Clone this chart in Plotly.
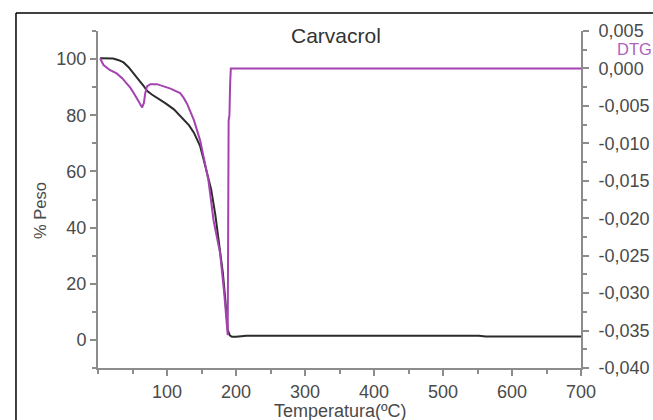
import plotly.graph_objects as go

# TG curve (% Peso vs Temperatura)
tg_temp = [3, 12, 22, 30, 37, 44, 52, 59, 66, 71, 78, 86, 98, 110, 124, 132, 139, 148, 153, 158,
           164, 170, 175, 181, 184.5, 188, 191, 194, 200, 207, 215, 300, 400, 500, 552, 562, 700]
tg_peso = [100.3, 100.3, 100.2, 99.6, 98.8, 97.2, 94.6, 92.6, 90.5, 88.7, 87.4, 86.2, 84.2, 82.1, 78.6, 76.4, 73.8, 69, 64.3, 59.5,
           53.6, 44.6, 35.7, 23.8, 14.3, 3.6, 1.6, 1.1, 1.1, 1.3, 1.5, 1.5, 1.5, 1.5, 1.5, 1.2, 1.2]

# DTG curve
dtg_temp = [3, 8, 17, 27, 35, 42, 47, 52, 57, 61, 64, 66.5, 68.5, 71, 75.8, 85.5, 95, 105, 119, 124, 129,
            134, 139, 148, 155.5, 160, 167.5, 177, 183, 187, 188, 189.3, 190.5, 191.5, 192.5, 200, 300,
            400, 500, 600, 700]
dtg_val = [0.00135, 0.00045, -0.0002, -0.00066, -0.0013, -0.0020, -0.0026, -0.0033, -0.0041, -0.0049, -0.0052, -0.0046,
           -0.0033, -0.0024, -0.0021, -0.0021, -0.0024, -0.0027, -0.0033, -0.0039, -0.0047,
           -0.0057, -0.0069, -0.0096, -0.0127, -0.0149, -0.0203, -0.0247, -0.0301, -0.0350, -0.0356,
           -0.0070, -0.0062, -0.0020, 0.0, 0.0, 0.0, 0.0, 0.0, 0.0, 0.0]

x_ticks = [100, 200, 300, 400, 500, 600, 700]
y_ticks = [0, 20, 40, 60, 80, 100]
y2_ticks = [0.005, 0.0, -0.005, -0.010, -0.015, -0.020, -0.025, -0.030, -0.035, -0.040]
y2_labels = ["0,005", "0,000", "-0,005", "-0,010", "-0,015", "-0,020", "-0,025", "-0,030", "-0,035", "-0,040"]

AX = "#8c8c8c"
TXT = "#4a4a4a"
PURPLE = "#a443b0"
FONT = "Liberation Sans, Arial, sans-serif"

fig = go.Figure()
fig.add_trace(go.Scatter(x=dtg_temp, y=dtg_val, yaxis="y2", mode="lines",
                         line=dict(color=PURPLE, width=2), showlegend=False))
fig.add_trace(go.Scatter(x=tg_temp, y=tg_peso, mode="lines",
                         line=dict(color="#2b2b2b", width=2), showlegend=False))

tick_font = dict(family=FONT, size=18, color=TXT)

fig.update_layout(
    width=653, height=420,
    margin=dict(l=98, r=72, t=31, b=52, autoexpand=False),
    paper_bgcolor="white", plot_bgcolor="white",
    font=dict(family=FONT, size=18, color=TXT),
    xaxis=dict(range=[0, 700], tickvals=x_ticks, showgrid=False, zeroline=False, automargin=False,
               showline=True, linecolor=AX, linewidth=2, ticks="outside", ticklen=6,
               tickcolor=AX, tickwidth=2, tickfont=tick_font,
               minor=dict(tickvals=[0, 50, 150, 250, 350, 450, 550, 650], ticks="outside",
                          ticklen=4, tickcolor=AX, tickwidth=2)),
    yaxis=dict(range=[-10, 110], tickvals=y_ticks, showgrid=False, zeroline=False, automargin=False,
               showline=True, linecolor=AX, linewidth=2, ticks="outside", ticklen=6,
               tickcolor=AX, tickwidth=2, tickfont=tick_font,
               minor=dict(tickvals=[-10, 10, 30, 50, 70, 90, 110], ticks="outside",
                          ticklen=4, tickcolor=AX, tickwidth=2)),
    yaxis2=dict(range=[-0.040, 0.005], overlaying="y", side="right", tickvals=y2_ticks,
                ticktext=y2_labels, showgrid=False, zeroline=False, automargin=False,
                showline=True, linecolor=AX, linewidth=2, ticks="outside", ticklen=6,
                tickcolor=AX, tickwidth=2, tickfont=tick_font, ticklabelstandoff=6,
                minor=dict(tickvals=[0.0025 - 0.005 * i for i in range(9)], ticks="outside",
                           ticklen=4, tickcolor=AX, tickwidth=2)),
    annotations=[
        dict(text="Carvacrol", x=0.4928, y=0.9866, xref="paper", yref="paper", showarrow=False,
             xanchor="center", yanchor="middle", font=dict(family=FONT, size=21, color="#333333")),
        dict(text="DTG", x=1.0704, y=0.9466, xref="paper", yref="paper", showarrow=False,
             xanchor="left", yanchor="middle", font=dict(family=FONT, size=16.5, color="#b060c0")),
        dict(text="Temperatura(ºC)", x=0.503, y=-0.1276, xref="paper", yref="paper", showarrow=False,
             xanchor="center", yanchor="middle", font=dict(family=FONT, size=18, color=TXT)),
        dict(text="% Peso", x=-0.12, y=0.466, xref="paper", yref="paper", showarrow=False,
             textangle=-90, xanchor="center", yanchor="middle", font=dict(family=FONT, size=16.5, color=TXT)),
    ],
    shapes=[
        dict(type="line", xref="paper", yref="paper", x0=-0.1698, x1=1.2, y0=1.0534, y1=1.0534,
             line=dict(color="black", width=1.5)),
        dict(type="line", xref="paper", yref="paper", x0=-0.1698, x1=-0.1698, y0=1.0534, y1=-0.2,
             line=dict(color="black", width=1.5)),
    ],
)

fig.write_html("out.html")
